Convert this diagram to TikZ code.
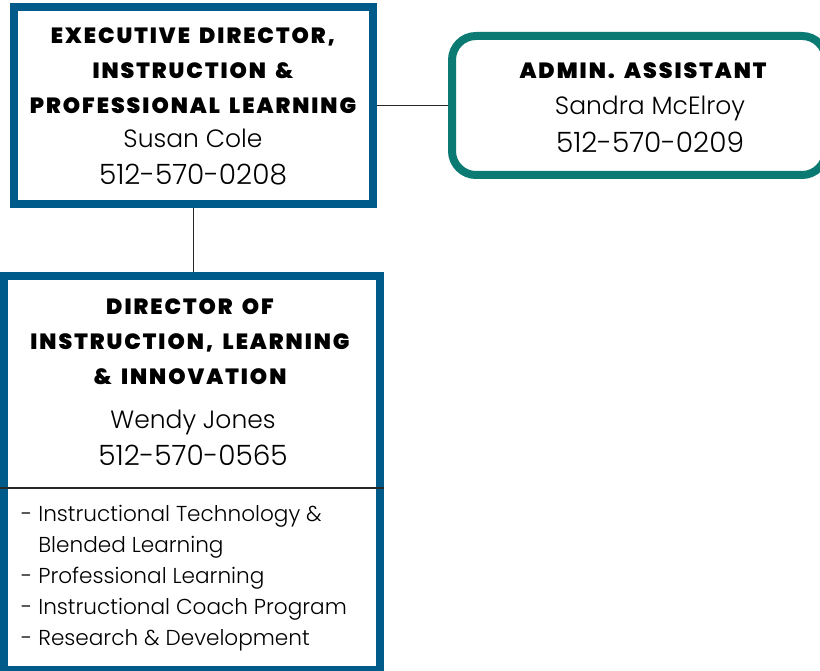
\documentclass[tikz,border=0pt]{standalone}
\usepackage{fontspec}
\setmainfont{Poppins}[UprightFont={* Light},BoldFont={* Bold}]
\newfontfamily\headfont{Poppins}[UprightFont={* Black},LetterSpace=9,WordSpace=1.6]
\usetikzlibrary{positioning}

\definecolor{boxblue}{RGB}{0,90,138}
\definecolor{boxteal}{RGB}{10,122,114}
\definecolor{linegray}{RGB}{40,40,40}

\begin{document}
\begin{tikzpicture}[x=1pt,y=-1pt,
  unitbox/.style={shape=rectangle,draw=boxblue,line width=8pt,inner sep=0pt},
  assistbox/.style={shape=rectangle,draw=boxteal,line width=8pt,rounded corners=24pt,inner sep=0pt},
  headtxt/.style={inner sep=0pt,align=center,font=\headfont\fontsize{22}{35}\selectfont},
  nametxt/.style={inner sep=0pt,anchor=base,font=\fontsize{25}{30}\selectfont},
  phonetxt/.style={nametxt,font=\fontsize{28}{30}\selectfont},
  listtxt/.style={inner sep=0pt,anchor=north west,align=left,font=\fontsize{21.6}{31}\selectfont},
  link/.style={draw=linegray,line width=1.5pt},
  sepline/.style={draw=linegray,line width=1.5pt}]
\useasboundingbox (0,0) rectangle (820,671);
\clip (0,0) rectangle (820,671);

% boxes
\node[unitbox,minimum width=359pt,minimum height=197pt] (exec) at (193.5,105.5) {};
\node[assistbox,minimum width=374pt,minimum height=139pt] (admin) at (639,105.5) {};
\node[unitbox,minimum width=376pt,minimum height=394pt] (dir) at (192,473) {};

% connectors
\draw[link] (exec.east) -- (admin.west);
\draw[link] (exec.south) -- (exec.south |- dir.north);
\draw[sepline] (dir.west |- 0,488) -- (dir.east |- 0,488);

% executive director
\node[headtxt,anchor=north] (execT) at (193,27) {EXECUTIVE DIRECTOR,\\INSTRUCTION \&\\PROFESSIONAL LEARNING};
\node[nametxt] (execN) at (193,148) {Susan Cole};
\node[phonetxt] (execP) at (193,185) {512-570-0208};

% admin assistant
\node[headtxt,anchor=north] (adminT) at (643,62) {ADMIN. ASSISTANT};
\node[nametxt] (adminN) at (650,115) {Sandra McElroy};
\node[phonetxt] (adminP) at (650,153) {512-570-0209};

% director
\node[headtxt,anchor=north] (dirT) at (190,298) {DIRECTOR OF\\INSTRUCTION, LEARNING\\\& INNOVATION};
\node[nametxt] (dirN) at (193,428) {Wendy Jones};
\node[phonetxt] (dirP) at (193,465) {512-570-0565};
\node[listtxt] (dirL) at (21,505) {- Instructional Technology \&\\\phantom{- }Blended Learning\\- Professional Learning\\- Instructional Coach Program\\- Research \& Development};
\end{tikzpicture}
\end{document}
